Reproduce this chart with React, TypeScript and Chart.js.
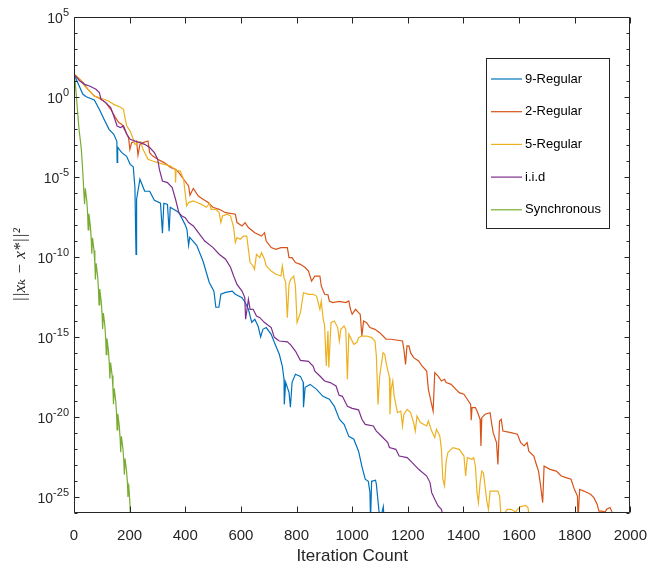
import React, { useEffect, useRef } from 'react';
import { Chart, registerables } from 'chart.js';

Chart.register(...registerables);

const seriesLabels = ['9-Regular', '2-Regular', '5-Regular', 'i.i.d', 'Synchronous'];
const seriesColors = ['#0072BD', '#D95319', '#EDB120', '#7E2F8E', '#77AC30'];

// iteration counts and log10(||x_k - x*||^2)
const regular9Iter = [0, 32, 44, 73, 91, 108, 126, 143, 154, 155, 157, 171, 189, 202, 213, 219, 223, 225, 237, 254, 272, 289, 311, 318, 323, 336, 342, 346, 377, 399, 406, 412, 416, 441, 464, 486, 503, 510, 521, 528, 545, 569, 580, 604, 615, 627, 639, 650, 662, 671, 679, 691, 709, 720, 738, 749, 755, 756, 761, 773, 778, 784, 796, 814, 824, 825, 831, 849, 872, 895, 918, 936, 954, 971, 988, 1006, 1023, 1035, 1047, 1058, 1064, 1066, 1070, 1084, 1087, 1100, 1112, 1115];
const regular9Log = [1.42, 0.17, 0.01, -0.18, -0.77, -1.39, -2.02, -2.33, -2.77, -4.08, -3.14, -3.46, -3.71, -4.21, -4.36, -5.64, -9.83, -6.39, -5.14, -5.88, -5.89, -6.46, -6.64, -8.52, -6.64, -6.71, -8.39, -6.89, -7.21, -7.96, -8.27, -9.27, -8.77, -9.27, -10.27, -11.58, -12.14, -13.14, -13.14, -12.33, -12.21, -12.13, -12.33, -12.54, -12.83, -13.27, -14.08, -13.89, -14.33, -15.0, -14.52, -14.41, -14.83, -15.33, -16.08, -16.83, -17.64, -19.21, -17.83, -18.46, -19.39, -17.83, -17.33, -17.46, -17.83, -19.39, -18.14, -17.96, -18.27, -18.71, -18.89, -19.33, -20.14, -20.46, -21.21, -21.39, -22.14, -23.08, -23.89, -24.02, -24.71, -26.5, -24.02, -23.95, -24.2, -26.5, -25.6, -26.5];

const regular2Iter = [0, 15, 33, 50, 73, 91, 114, 132, 149, 161, 172, 184, 196, 201, 207, 225, 230, 237, 248, 266, 272, 283, 301, 324, 347, 365, 377, 394, 412, 417, 429, 447, 464, 481, 499, 522, 545, 580, 586, 604, 615, 627, 650, 674, 685, 691, 709, 726, 744, 767, 773, 784, 796, 814, 831, 843, 854, 866, 884, 889, 901, 913, 918, 930, 954, 977, 988, 994, 1000, 1012, 1023, 1029, 1035, 1041, 1052, 1064, 1082, 1099, 1111, 1122, 1140, 1181, 1186, 1192, 1197, 1204, 1210, 1221, 1239, 1251, 1268, 1274, 1291, 1297, 1309, 1321, 1332, 1338, 1356, 1373, 1385, 1402, 1414, 1426, 1428, 1431, 1443, 1449, 1460, 1463, 1466, 1478, 1496, 1501, 1507, 1519, 1524, 1530, 1536, 1542, 1571, 1594, 1606, 1618, 1629, 1635, 1653, 1664, 1670, 1676, 1685, 1690, 1711, 1734, 1752, 1769, 1787, 1799, 1810, 1812, 1818, 1833, 1857, 1869, 1881, 1887, 1898, 1909, 1915, 1927, 1933, 1937];
const regular2Log = [1.42, 1.21, 0.9, 0.48, 0.06, -0.08, -0.35, -0.77, -1.29, -1.6, -1.71, -2.13, -2.54, -3.27, -2.85, -2.75, -3.64, -2.96, -2.85, -2.75, -3.48, -3.69, -3.89, -4.1, -4.41, -4.52, -4.73, -5.14, -5.56, -6.14, -5.71, -6.19, -6.39, -6.58, -6.89, -7.02, -7.23, -7.33, -7.85, -8.06, -7.85, -8.16, -8.48, -8.69, -8.48, -9.0, -9.41, -9.52, -9.41, -9.41, -10.04, -10.04, -10.35, -10.46, -10.66, -10.88, -11.5, -11.19, -11.19, -11.81, -12.33, -12.36, -12.75, -12.85, -12.77, -12.85, -12.75, -13.27, -13.58, -13.27, -13.48, -13.58, -14.94, -14.0, -14.1, -14.41, -14.52, -14.73, -14.94, -15.14, -15.14, -15.25, -15.77, -16.71, -15.56, -15.56, -15.98, -16.29, -16.5, -16.81, -17.13, -18.27, -19.63, -17.23, -17.44, -17.75, -17.64, -17.85, -17.96, -18.27, -18.48, -18.58, -18.89, -19.21, -20.2, -19.41, -19.41, -19.63, -20.14, -21.81, -20.04, -19.83, -19.73, -20.35, -20.98, -21.6, -22.96, -20.25, -20.14, -20.88, -20.98, -21.08, -21.6, -21.81, -21.6, -22.13, -22.44, -23.06, -23.38, -24.1, -25.35, -23.06, -23.27, -23.38, -23.69, -23.79, -23.89, -24.52, -24.94, -26.4, -24.52, -24.63, -24.83, -25.04, -25.46, -25.88, -25.88, -25.94, -25.77, -25.66, -25.88, -26.4];

const regular5Iter = [0, 21, 38, 56, 73, 91, 108, 126, 143, 167, 178, 184, 190, 202, 213, 219, 231, 240, 248, 266, 283, 301, 324, 347, 364, 365, 367, 382, 394, 405, 412, 429, 441, 458, 476, 487, 493, 510, 522, 528, 534, 551, 563, 574, 580, 586, 598, 609, 621, 627, 633, 644, 649, 656, 668, 674, 685, 691, 709, 726, 744, 749, 755, 761, 767, 773, 779, 790, 796, 802, 814, 825, 843, 860, 872, 884, 889, 895, 901, 907, 913, 916, 924, 936, 948, 954, 959, 971, 977, 983, 988, 1006, 1017, 1023, 1035, 1052, 1070, 1082, 1087, 1093, 1099, 1111, 1117, 1122, 1134, 1136, 1140, 1146, 1151, 1163, 1175, 1181, 1186, 1198, 1210, 1221, 1227, 1233, 1245, 1268, 1274, 1286, 1297, 1303, 1315, 1321, 1326, 1332, 1338, 1344, 1362, 1385, 1402, 1408, 1414, 1431, 1437, 1443, 1449, 1454, 1460, 1466, 1472, 1484, 1490, 1496, 1524, 1530, 1536, 1557, 1571, 1588, 1594, 1606, 1624, 1632, 1638];
const regular5Log = [1.42, 1.11, 0.69, 0.38, 0.06, -0.04, -0.14, -0.27, -0.46, -0.64, -0.77, -1.39, -1.81, -2.13, -2.64, -2.96, -2.85, -2.8, -3.27, -3.89, -4.0, -4.1, -4.21, -4.31, -4.52, -5.35, -4.58, -4.63, -5.14, -6.81, -6.6, -6.5, -6.58, -6.71, -6.89, -6.64, -7.02, -7.02, -7.23, -7.85, -7.44, -7.33, -7.44, -8.16, -9.1, -8.79, -8.89, -8.69, -8.69, -9.52, -10.35, -10.56, -10.77, -9.83, -10.04, -9.73, -10.14, -10.56, -10.88, -11.08, -11.19, -10.56, -11.29, -11.6, -13.79, -11.71, -11.39, -11.19, -11.81, -14.1, -13.48, -12.23, -12.33, -12.33, -12.44, -13.27, -12.75, -13.77, -14.31, -16.81, -14.63, -16.91, -14.1, -14.0, -14.41, -15.25, -14.52, -14.31, -14.52, -17.64, -14.83, -15.46, -15.35, -15.04, -14.94, -14.94, -15.04, -15.25, -16.19, -19.21, -17.44, -15.98, -16.08, -16.6, -17.54, -19.83, -18.27, -17.75, -18.69, -19.73, -19.63, -20.56, -19.83, -19.52, -19.73, -20.35, -20.88, -19.94, -20.35, -20.56, -20.25, -20.88, -21.29, -20.77, -21.19, -22.02, -23.89, -24.31, -22.75, -22.23, -21.91, -22.02, -22.44, -23.69, -22.54, -22.64, -22.54, -23.06, -24.73, -25.35, -24.1, -23.38, -23.48, -25.25, -25.77, -24.63, -24.63, -24.94, -26.4, -25.77, -25.77, -25.94, -25.77, -25.6, -25.52, -25.66, -26.4];

const iidIter = [0, 21, 38, 56, 79, 91, 97, 114, 132, 143, 155, 167, 178, 190, 202, 219, 237, 254, 272, 289, 301, 307, 318, 336, 353, 365, 377, 388, 400, 412, 429, 447, 470, 499, 522, 545, 563, 574, 586, 604, 614, 617, 627, 633, 644, 656, 668, 685, 709, 720, 738, 767, 779, 796, 814, 843, 860, 866, 884, 901, 921, 942, 953, 965, 976, 983, 1000, 1023, 1035, 1047, 1076, 1087, 1105, 1128, 1134, 1157, 1169, 1198, 1216, 1239, 1268, 1280, 1286, 1297, 1309, 1321, 1329];
const iidLog = [1.42, 1.0, 0.79, 0.69, 0.48, 0.28, -0.14, -0.35, -0.66, -1.19, -1.81, -1.91, -1.81, -2.33, -2.64, -2.75, -2.85, -2.96, -3.16, -3.48, -3.89, -4.52, -5.25, -5.35, -5.66, -6.39, -7.23, -7.44, -7.54, -7.85, -8.06, -8.48, -9.0, -9.4, -9.83, -10.14, -10.66, -11.19, -11.71, -12.13, -12.54, -13.89, -12.64, -13.27, -13.27, -13.69, -13.79, -14.1, -14.41, -15.02, -15.25, -15.3, -15.49, -15.88, -16.46, -16.52, -16.83, -17.13, -17.44, -17.75, -17.85, -18.06, -18.64, -18.71, -19.1, -19.33, -19.46, -19.55, -20.14, -20.46, -20.56, -20.88, -21.19, -21.6, -21.91, -22.02, -22.44, -22.54, -22.85, -23.27, -23.69, -24.1, -24.73, -25.14, -25.56, -25.77, -26.4];

const syncIter = [0, 4, 10, 18, 26, 31, 35, 38, 40.5, 46, 49, 51, 53.5, 59, 62, 64, 66.5, 72, 75, 77, 79.5, 85, 88, 90, 92.5, 98, 101, 103, 105.5, 111, 114, 116, 118.5, 124, 127, 129, 131.5, 137, 140, 142, 144.5, 150, 153, 155, 157.5, 163, 166, 168, 170.5, 176, 179, 181, 183.5, 189, 192, 194, 196.5, 201, 204];
const syncLog = [1.42, 1.0, -0.3, -2.0, -3.2, -4.5, -5.8, -6.7, -5.7, -6.5, -7.3, -8.3, -7.3, -8.1, -8.9, -9.8, -8.8, -9.6, -10.4, -11.4, -10.4, -11.2, -12.0, -13.0, -12.0, -12.8, -13.6, -14.5, -13.5, -14.3, -15.1, -16.1, -15.1, -15.9, -16.7, -17.6, -16.6, -17.4, -18.2, -19.2, -18.2, -19.0, -19.8, -20.8, -19.8, -20.6, -21.4, -22.2, -21.2, -22.0, -22.7, -23.6, -22.6, -23.4, -24.1, -25.0, -24.2, -25.4, -27];

const xTicks = [0, 200, 400, 600, 800, 1000, 1200, 1400, 1600, 1800, 2000];
const yLabelExps = [5, 0, -5, -10, -15, -20, -25];
const yMinExp = -26;
const yMaxExp = 5;

const axisColor = '#262626';
const sans = '"Liberation Sans", Arial, Helvetica, sans-serif';

const toPoints = (iter: number[], logs: number[]) =>
  iter.map((x, i) => ({ x, y: Math.pow(10, logs[i]) }));

// box + inward tick marks, MATLAB style
const framePlugin = {
  id: 'frame',
  afterDatasetsDraw(chart: any) {
    const { ctx, chartArea: a, scales } = chart;
    const l = Math.round(a.left) + 0.5;
    const r = Math.round(a.right) - 0.5;
    const t = Math.round(a.top) + 0.5;
    const b = Math.round(a.bottom) - 0.5;
    ctx.save();
    ctx.strokeStyle = axisColor;
    ctx.lineWidth = 1;
    ctx.beginPath();
    ctx.rect(l, t, r - l, b - t);
    for (const v of xTicks) {
      const px = Math.round(scales.x.getPixelForValue(v)) + 0.5;
      ctx.moveTo(px, b);
      ctx.lineTo(px, b - 6);
      ctx.moveTo(px, t);
      ctx.lineTo(px, t + 6);
    }
    for (let e = yMinExp; e <= yMaxExp; e++) {
      const py = Math.round(scales.y.getPixelForValue(Math.pow(10, e))) + 0.5;
      const len = e % 5 === 0 ? 5 : 3;
      ctx.moveTo(l, py);
      ctx.lineTo(l + len, py);
      ctx.moveTo(r, py);
      ctx.lineTo(r - len, py);
    }
    ctx.stroke();

    // y tick labels as 10 with a raised exponent
    ctx.fillStyle = axisColor;
    ctx.textBaseline = 'middle';
    ctx.textAlign = 'left';
    for (const e of yLabelExps) {
      const py = scales.y.getPixelForValue(Math.pow(10, e));
      const exp = String(e);
      ctx.font = `11px ${sans}`;
      const ew = ctx.measureText(exp).width;
      const right = a.left - 5;
      ctx.fillText(exp, right - ew, py - 4);
      ctx.font = `14px ${sans}`;
      const bw = ctx.measureText('10').width;
      ctx.fillText('10', right - ew - bw, py + 2);
    }
    ctx.restore();
  },
};

const legendPlugin = {
  id: 'boxLegend',
  afterDraw(chart: any) {
    const { ctx } = chart;
    const x = 486;
    const y = 58;
    const w = 123;
    const h = 170;
    ctx.save();
    ctx.fillStyle = '#ffffff';
    ctx.fillRect(x, y, w, h);
    ctx.strokeStyle = axisColor;
    ctx.lineWidth = 1;
    ctx.strokeRect(x + 0.5, y + 0.5, w, h);
    ctx.font = `13px ${sans}`;
    ctx.textBaseline = 'middle';
    chart.data.datasets.forEach((ds: any, i: number) => {
      const cy = y + 21 + i * 32.7;
      ctx.strokeStyle = ds.borderColor;
      ctx.lineWidth = 1.2;
      ctx.beginPath();
      ctx.moveTo(x + 5, cy);
      ctx.lineTo(x + 36, cy);
      ctx.stroke();
      ctx.fillStyle = '#000000';
      ctx.fillText(ds.label, x + 39, cy);
    });
    ctx.restore();
  },
};

const App: React.FC = () => {
  const canvasRef = useRef<HTMLCanvasElement>(null);

  useEffect(() => {
    if (!canvasRef.current) return;
    const series = [
      toPoints(regular9Iter, regular9Log),
      toPoints(regular2Iter, regular2Log),
      toPoints(regular5Iter, regular5Log),
      toPoints(iidIter, iidLog),
      toPoints(syncIter, syncLog),
    ];

    const chart = new Chart(canvasRef.current, {
      type: 'line',
      data: {
        datasets: series.map((data, i) => ({
          label: seriesLabels[i],
          data,
          borderColor: seriesColors[i],
          backgroundColor: seriesColors[i],
          borderWidth: 1.2,
          pointRadius: 0,
          pointHoverRadius: 0,
          tension: 0,
          fill: false,
          order: series.length - i,
        })),
      },
      options: {
        animation: false,
        responsive: true,
        maintainAspectRatio: false,
        events: [],
        layout: { padding: { top: 17, right: 15, left: 0, bottom: 0 } },
        plugins: {
          legend: { display: false },
          tooltip: { enabled: false },
        },
        scales: {
          x: {
            type: 'linear',
            min: 0,
            max: 2000,
            afterBuildTicks: (s: any) => {
              s.ticks = xTicks.map((value) => ({ value }));
            },
            afterFit: (s: any) => {
              s.height = 55;
            },
            grid: { display: false, drawTicks: false },
            border: { display: false },
            ticks: {
              color: axisColor,
              font: { family: sans, size: 15 },
              padding: 14,
              maxRotation: 0,
              autoSkip: false,
              callback: (v: any) => String(v),
            },
            title: {
              display: true,
              text: 'Iteration Count',
              color: axisColor,
              font: { family: sans, size: 17 },
              padding: { top: 0, bottom: 1 },
            },
          },
          y: {
            type: 'logarithmic',
            min: Math.pow(10, yMinExp),
            max: Math.pow(10, yMaxExp),
            afterFit: (s: any) => {
              s.width = 74;
            },
            grid: { display: false, drawTicks: false },
            border: { display: false },
            ticks: { display: false },
            title: {
              display: true,
              text: '||xₖ − x*||²',
              color: axisColor,
              font: { family: '"Liberation Serif", "DejaVu Serif", serif', style: 'italic', size: 17 },
              padding: { top: 10, bottom: 0 },
            },
          },
        },
      },
      plugins: [framePlugin, legendPlugin],
    });

    return () => {
      chart.destroy();
    };
  }, []);

  return (
    <div style={{ position: 'absolute', left: 0, top: 0, width: 661, height: 568, background: '#fff' }}>
      <canvas ref={canvasRef} />
    </div>
  );
};

export default App;
